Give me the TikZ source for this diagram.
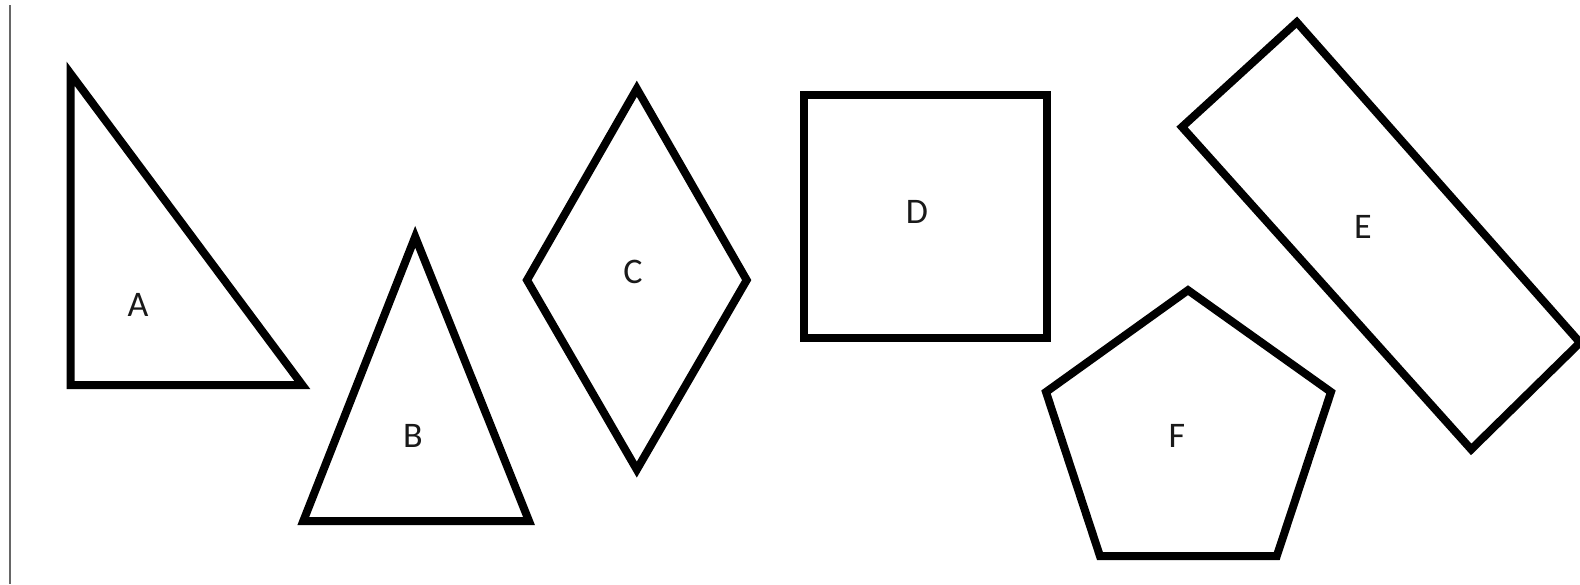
\documentclass[tikz,border=0pt]{standalone}
\usepackage{fontspec}
\setmainfont{Carlito}
\usepackage{tikz}
\usetikzlibrary{positioning,calc}

\tikzset{
  shape outline/.style={draw=black, line width=4pt, line join=miter},
  shape label/.style={font=\fontsize{18}{21}\selectfont, text=black!90}
}

\begin{document}
\begin{tikzpicture}[x=0.5pt, y=-0.5pt]
  \useasboundingbox (0,0) rectangle (1580,584);

  % Left margin rule
  \draw[black!60, line width=1pt] (10,5) -- (10,584);

  % A: right triangle
  \draw[shape outline] (70.5,73.6) -- (70.5,385) -- (302.3,385) -- cycle;
  \node[shape label] (lblA) at (138,305) {A};

  % B: isosceles triangle
  \draw[shape outline] (415.2,236.8) -- (529,521) -- (303.3,521) -- cycle;
  \node[shape label] (lblB) at (413,436) {B};

  % C: rhombus
  \draw[shape outline] (636.8,88.7) -- (746.7,280.1) -- (636.8,469.6) -- (527,280.1) -- cycle;
  \node[shape label] (lblC) at (633,272) {C};

  % D: square
  \draw[shape outline] (804.1,94.7) rectangle (1047,337.6);
  \node[shape label] (lblD) at (917,212) {D};

  % E: tilted rectangle
  \draw[shape outline] (1296.8,22.2) -- (1580,342.6) -- (1471.2,449.4) -- (1182,127) -- cycle;
  \node[shape label] (lblE) at (1363,227) {E};

  % F: pentagon
  \draw[shape outline] (1188,290.2) -- (1331,392) -- (1276.7,556.2) -- (1100,556.2) -- (1046,392) -- cycle;
  \node[shape label] (lblF) at (1177,436) {F};
\end{tikzpicture}
\end{document}
